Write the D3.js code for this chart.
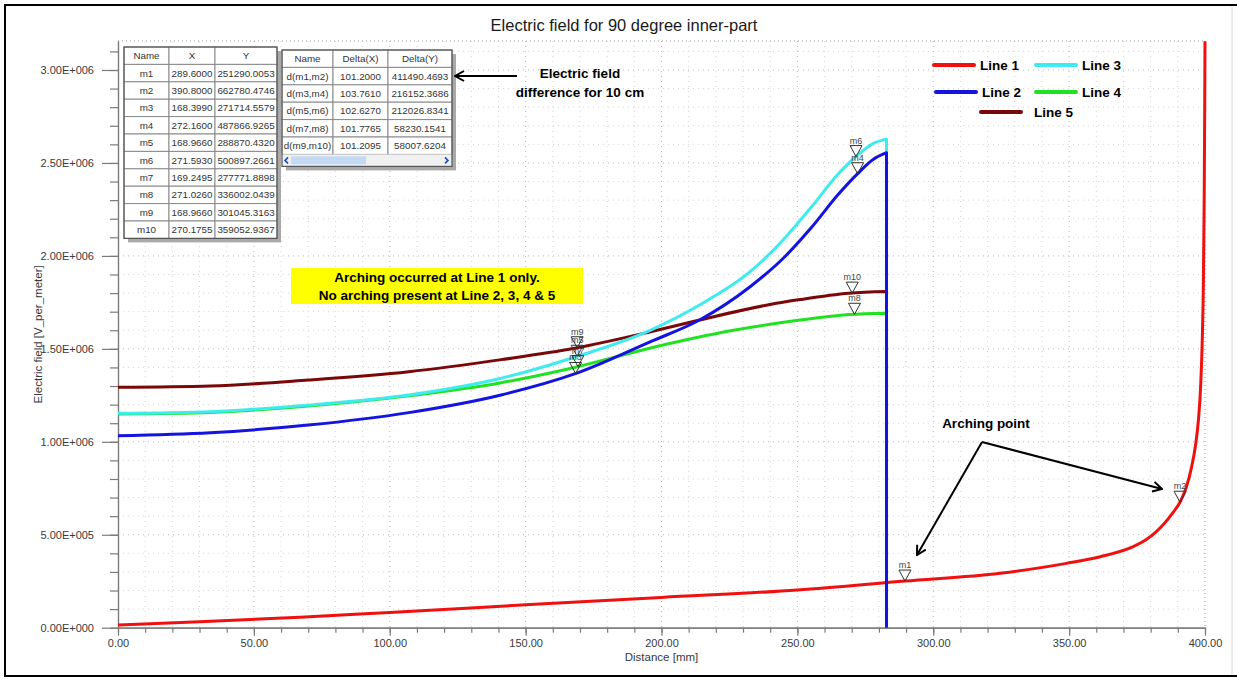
<!DOCTYPE html>
<html><head><meta charset="utf-8">
<script src="https://cdn.jsdelivr.net/npm/d3@7"></script>
<style>
body{margin:0;background:#fff}
svg{display:block}
text{font-family:"Liberation Sans",Arial,sans-serif}
</style>
</head><body>
<svg id="chart" width="1237" height="679"></svg>
<script>
// ---------------- data ----------------
const seriesNames = ["Line 1", "Line 2", "Line 3", "Line 4", "Line 5"];
const seriesColors = ["#f01010", "#1414e0", "#3eecf0", "#22e022", "#7a0808"];
// [distance mm, E V/m]
const line1 = [[0,0.015e6],[30,0.032e6],[67,0.056e6],[100,0.082e6],[150,0.123e6],[200,0.163e6],[250,0.203e6],[289.6,0.251e6],[324.6,0.293e6],[349,0.346e6],[361.4,0.382e6],[373.6,0.436e6],[378,0.47e6],[382,0.515e6],[385,0.56e6],[388,0.615e6],[390.8,0.675e6],[393,0.75e6],[395,0.86e6],[396.5,0.98e6],[397.6,1.12e6],[398.4,1.3e6],[399,1.55e6],[399.4,1.85e6],[399.7,2.3e6],[399.9,2.8e6],[400,3.155e6]];
const line2 = [[0,1.033e6],[34,1.049e6],[70,1.090e6],[107,1.157e6],[141,1.252e6],[168,1.365e6],[196,1.539e6],[214,1.655e6],[232.6,1.834e6],[245,1.99e6],[255,2.15e6],[265,2.33e6],[272,2.44e6],[278,2.52e6],[282.8,2.555e6]];
const line3 = [[0,1.153e6],[34,1.162e6],[70,1.198e6],[107,1.252e6],[141,1.342e6],[168,1.455e6],[196,1.601e6],[214,1.736e6],[232.6,1.915e6],[245,2.09e6],[255,2.26e6],[265,2.44e6],[272,2.54e6],[278,2.605e6],[282.8,2.628e6]];
const line4 = [[0,1.150e6],[34,1.158e6],[70,1.193e6],[107,1.248e6],[141,1.318e6],[168,1.400e6],[196,1.505e6],[226.5,1.600e6],[251,1.655e6],[269,1.685e6],[282.8,1.692e6]];
const line5 = [[0,1.293e6],[34,1.300e6],[70,1.332e6],[107,1.377e6],[141,1.442e6],[168,1.503e6],[196,1.592e6],[214,1.655e6],[239,1.736e6],[251,1.765e6],[269,1.799e6],[282.8,1.808e6]];
const allLines = [line1, line2, line3, line4, line5];

const xTicks = [0,50,100,150,200,250,300,350,400];
const yTicks = [0,0.5e6,1.0e6,1.5e6,2.0e6,2.5e6,3.0e6];

// marker table
const markerNames = ["m1","m2","m3","m4","m5","m6","m7","m8","m9","m10"];
const markerX = ["289.6000","390.8000","168.3990","272.1600","168.9660","271.5930","169.2495","271.0260","168.9660","270.1755"];
const markerY = ["251290.0053","662780.4746","271714.5579","487866.9265","288870.4320","500897.2661","277771.8898","336002.0439","301045.3163","359052.9367"];
const markerLine = [1,1,2,2,3,3,4,4,5,5];

// delta table
const deltaNames = ["d(m1,m2)","d(m3,m4)","d(m5,m6)","d(m7,m8)","d(m9,m10)"];
const deltaX = ["101.2000","103.7610","102.6270","101.7765","101.2095"];
const deltaY = ["411490.4693","216152.3686","212026.8341","58230.1541","58007.6204"];

// ---------------- drawing ----------------
(function(){
const svg = d3.select("#chart");
const W = 1237;
const pL = 118, pR = 1205, pT = 41, pB = 627.7;
const x = d3.scaleLinear([0, 400], [pL, pR]);
const y = d3.scaleLinear([0, 3.156e6], [pB, pT]);

const defs = svg.append("defs");
defs.append("marker").attr("id","arr").attr("viewBox","0 0 12 12")
  .attr("refX",11).attr("refY",6).attr("markerWidth",12).attr("markerHeight",12)
  .attr("markerUnits","userSpaceOnUse").attr("orient","auto")
  .append("path").attr("d","M2,1 L11,6 L2,11").attr("fill","none")
  .attr("stroke","#000").attr("stroke-width",2);

// grid
const g = svg.append("g");
const minorY = d3.range(1e5, 3.15e6, 1e5);
const minorX = d3.range(10, 400, 10);
g.selectAll(".gy").data(minorY).join("line")
  .attr("x1", pL).attr("x2", pR).attr("y1", d => y(d)).attr("y2", d => y(d))
  .attr("stroke", d => (Math.round(d/1e5) % 5 === 0) ? "#b8b8b8" : "#d6d6d6")
  .attr("stroke-dasharray","1,4").attr("stroke-width",1);
g.selectAll(".gx").data(minorX).join("line")
  .attr("y1", pT).attr("y2", pB).attr("x1", d => x(d)).attr("x2", d => x(d))
  .attr("stroke", d => (d % 50 === 0) ? "#b8b8b8" : "#d6d6d6")
  .attr("stroke-dasharray","1,4").attr("stroke-width",1);
g.append("line").attr("x1",pL).attr("x2",pR).attr("y1",pT).attr("y2",pT)
  .attr("stroke","#999").attr("stroke-dasharray","1,3");
g.append("line").attr("x1",pR).attr("x2",pR).attr("y1",pT).attr("y2",pB)
  .attr("stroke","#999").attr("stroke-dasharray","1,3");

// axes
const fmtE = v => {
  if (v === 0) return "0.00E+000";
  const e = Math.floor(Math.log10(v) + 1e-9);
  const m = v / Math.pow(10, e);
  return m.toFixed(2) + "E+" + String(e).padStart(3, "0");
};
const axisColor = "#7a7a7a";
const yAxisMinor = svg.append("g").attr("transform",`translate(${pL},0)`)
  .call(d3.axisLeft(y).tickValues(d3.range(0, 3.15e6, 1e5)).tickSize(8).tickSizeOuter(0).tickFormat(""));
const yAxis = svg.append("g").attr("transform",`translate(${pL},0)`)
  .call(d3.axisLeft(y).tickValues(yTicks).tickSize(16).tickSizeOuter(0).tickPadding(8).tickFormat(fmtE));
const xAxisMinor = svg.append("g").attr("transform",`translate(0,${pB})`)
  .call(d3.axisBottom(x).tickValues(d3.range(0, 401, 10)).tickSize(5).tickSizeOuter(0).tickFormat(""));
const xAxis = svg.append("g").attr("transform",`translate(0,${pB})`)
  .call(d3.axisBottom(x).tickValues(xTicks).tickSize(8).tickSizeOuter(0).tickPadding(4).tickFormat(d => d.toFixed(2)));
[yAxisMinor, yAxis, xAxisMinor, xAxis].forEach(a => {
  a.selectAll("path,line").attr("stroke", axisColor).attr("stroke-width", 1.2);
  a.selectAll("text").attr("fill","#3a3a3a").style("font-size","11px")
   .style("font-family",'"Liberation Sans",Arial,sans-serif');
});

svg.append("text").attr("x", (pL+pR)/2).attr("y", 661).attr("text-anchor","middle")
  .attr("fill","#3a3a3a").style("font-size","11.5px").text("Distance [mm]");
svg.append("text").attr("transform",`translate(38,${(pT+pB)/2}) rotate(-90)`)
  .attr("text-anchor","middle").attr("dy","0.35em").attr("fill","#3a3a3a")
  .style("font-size","11.5px").text("Electric field [V_per_meter]");

svg.append("text").attr("x", 624).attr("y", 31).attr("text-anchor","middle")
  .attr("fill","#1a1a1a").style("font-size","16.5px").text("Electric field for 90 degree inner-part");

// lines
const lineGen = d3.line().x(d => x(d[0])).y(d => y(d[1])).curve(d3.curveMonotoneX);
const drawOrder = [0, 4, 3, 2, 1];
drawOrder.forEach(i => {
  const pts = allLines[i];
  let d = lineGen(pts);
  if (i > 0) { const last = pts[pts.length-1]; d += `L${x(last[0])},${y(0)}`; }
  svg.append("path").attr("d", d).attr("fill","none")
    .attr("stroke", seriesColors[i]).attr("stroke-width", 3).attr("stroke-linejoin","round");
});

// markers
const interp = (pts, xv) => {
  for (let k = 0; k < pts.length-1; k++) {
    const a = pts[k], b = pts[k+1];
    if (xv >= a[0] && xv <= b[0]) return a[1] + (b[1]-a[1]) * (xv-a[0])/(b[0]-a[0]);
  }
  return pts[pts.length-1][1];
};
markerNames.forEach((n, i) => {
  const xv = +markerX[i];
  const yv = interp(allLines[markerLine[i]-1], xv);
  const px = x(xv), py = y(yv);
  svg.append("path").attr("d", `M${px-6},${py-11}L${px+6},${py-11}L${px},${py}Z`)
    .attr("fill","none").attr("stroke","#333").attr("stroke-width",1);
  svg.append("text").attr("x", px).attr("y", py-13).attr("text-anchor","middle")
    .attr("fill","#444").style("font-size","9px").text(n);
});

// tables
function drawTable(x0, y0, colW, rowH, rows, scrollbar) {
  const tw = d3.sum(colW), th = rowH * rows.length + (scrollbar ? 12 : 0);
  const tg = svg.append("g");
  tg.append("rect").attr("x", x0+4).attr("y", y0+4).attr("width", tw).attr("height", th).attr("fill","#a9a9a9");
  tg.append("rect").attr("x", x0).attr("y", y0).attr("width", tw).attr("height", th).attr("fill","#fff");
  let cx = x0;
  colW.forEach((w, c) => {
    rows.forEach((r, k) => {
      tg.append("rect").attr("x", cx).attr("y", y0 + k*rowH).attr("width", w).attr("height", rowH)
        .attr("fill","#fff").attr("stroke","#8a8a8a").attr("stroke-width",1);
      tg.append("text").attr("x", cx + w/2).attr("y", y0 + k*rowH + rowH/2).attr("dy","0.35em")
        .attr("text-anchor","middle").attr("fill","#333").style("font-size","9.8px").text(r[c]);
    });
    cx += w;
  });
  if (scrollbar) {
    const sy = y0 + rowH*rows.length;
    tg.append("rect").attr("x", x0).attr("y", sy).attr("width", tw).attr("height", 12).attr("fill","#f0f0f0");
    tg.append("rect").attr("x", x0+9).attr("y", sy+2).attr("width", 75).attr("height", 8).attr("fill","#c4daf4");
    tg.append("path").attr("d",`M${x0+6},${sy+3}L${x0+3},${sy+6}L${x0+6},${sy+9}`).attr("fill","none").attr("stroke","#1a4fc0").attr("stroke-width",1.6);
    tg.append("path").attr("d",`M${x0+tw-7},${sy+3}L${x0+tw-4},${sy+6}L${x0+tw-7},${sy+9}`).attr("fill","none").attr("stroke","#1a4fc0").attr("stroke-width",1.6);
  }
  tg.append("rect").attr("x", x0).attr("y", y0).attr("width", tw).attr("height", th)
    .attr("fill","none").attr("stroke","#555").attr("stroke-width",1.2);
}
const t1Rows = [["Name","X","Y"]].concat(markerNames.map((n,i) => [n, markerX[i], markerY[i]]));
drawTable(124, 47, [45, 46, 62], 17.4, t1Rows, false);
const t2Rows = [["Name","Delta(X)","Delta(Y)"]].concat(deltaNames.map((n,i) => [n, deltaX[i], deltaY[i]]));
drawTable(282, 50, [51, 55, 64], 17.4, t2Rows, true);

// annotations
const bold = sel => sel.attr("font-weight","bold").attr("fill","#000").style("font-size","13.5px");
svg.append("line").attr("x1",517).attr("y1",76).attr("x2",455).attr("y2",76)
  .attr("stroke","#000").attr("stroke-width",2).attr("marker-end","url(#arr)");
bold(svg.append("text").attr("x",580).attr("y",77.5).attr("text-anchor","middle")).text("Electric field");
bold(svg.append("text").attr("x",580).attr("y",96.5).attr("text-anchor","middle")).text("difference for 10 cm");

svg.append("rect").attr("x",291).attr("y",268).attr("width",292).attr("height",36).attr("fill","#ffff00");
bold(svg.append("text").attr("x",437).attr("y",281.5).attr("text-anchor","middle")).text("Arching occurred at Line 1 only.");
bold(svg.append("text").attr("x",437).attr("y",299.5).attr("text-anchor","middle")).text("No arching present at Line 2, 3, 4 & 5");

bold(svg.append("text").attr("x",986).attr("y",427.5).attr("text-anchor","middle")).text("Arching point");
svg.append("line").attr("x1",982).attr("y1",442).attr("x2",917).attr("y2",555)
  .attr("stroke","#000").attr("stroke-width",2).attr("marker-end","url(#arr)");
svg.append("line").attr("x1",982).attr("y1",442).attr("x2",1162).attr("y2",489)
  .attr("stroke","#000").attr("stroke-width",2).attr("marker-end","url(#arr)");

// legend
const legendPos = [[934,65],[936,92],[1036,65],[1036,92],[981,112]];
legendPos.forEach((p, i) => {
  svg.append("line").attr("x1",p[0]).attr("x2",p[0]+40).attr("y1",p[1]).attr("y2",p[1])
    .attr("stroke",seriesColors[i]).attr("stroke-width",4).attr("stroke-linecap","round");
  bold(svg.append("text").attr("x", p[0] + (i === 4 ? 53 : 46)).attr("y", p[1]).attr("dy","0.35em")).text(seriesNames[i]);
});

// frame
svg.append("line").attr("x1",4).attr("x2",W).attr("y1",5).attr("y2",5).attr("stroke","#000").attr("stroke-width",2);
svg.append("line").attr("x1",5).attr("x2",5).attr("y1",4).attr("y2",677).attr("stroke","#000").attr("stroke-width",2);
svg.append("line").attr("x1",4).attr("x2",W).attr("y1",676).attr("y2",676).attr("stroke","#000").attr("stroke-width",2);
svg.append("line").attr("x1",1232).attr("x2",1232).attr("y1",7).attr("y2",675).attr("stroke","#d8d8d8").attr("stroke-width",1);
})();
</script>
</body></html>
